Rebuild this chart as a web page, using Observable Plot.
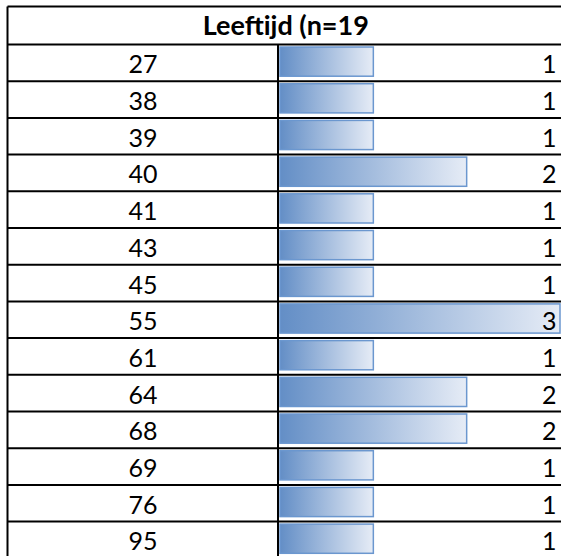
<!DOCTYPE html>
<html><head><meta charset="utf-8">
<script src="https://cdn.jsdelivr.net/npm/d3@7"></script>
<script src="https://cdn.jsdelivr.net/npm/@observablehq/plot@0.6"></script>
<style>body{margin:0;background:#fff;} svg{display:block;}</style>
</head><body><div id="chart"></div>
<script>
const title = "Leeftijd (n=19";
const ages = ["27","38","39","40","41","43","45","55","61","64","68","69","76","95"];
const counts = [1,1,1,2,1,1,1,3,1,2,2,1,1,1];
const maxCount = 3;

const rows = ages.map((age, i) => ({age, count: counts[i], row: i}));
const W = 561, H = 556;
const rowH = 36.7, tableTop = 44;
const barLeft = 280, barRight = 560;

const defs = () => {
  const d = d3.create("svg:defs");
  const g = d.append("linearGradient").attr("id", "databar")
    .attr("x1", 0).attr("x2", 1).attr("y1", 0).attr("y2", 0);
  g.append("stop").attr("offset", 0).attr("stop-color", "#638EC6");
  g.append("stop").attr("offset", 1).attr("stop-color", "#E6ECF6");
  return d.node();
};

const borders = (index, scales, values, dims) => {
  const g = d3.create("svg:g").attr("stroke", "#000").attr("stroke-width", 2);
  g.append("line").attr("x1", dims.marginLeft).attr("x2", dims.width)
    .attr("y1", dims.marginTop).attr("y2", dims.marginTop);
  g.append("line").attr("x1", dims.marginLeft).attr("x2", dims.marginLeft)
    .attr("y1", dims.marginTop).attr("y2", dims.height);
  const xd = scales.x(0) - 2;
  g.append("line").attr("x1", xd).attr("x2", xd)
    .attr("y1", scales.y(0)).attr("y2", dims.height);
  return g.node();
};

const chart = Plot.plot({
  width: W, height: H,
  marginLeft: 7.5, marginTop: 6.5, marginRight: 0, marginBottom: 0,
  style: {fontFamily: "Lato, sans-serif", fontSize: "25px", background: "#fff", color: "#000"},
  x: {domain: [0, maxCount], range: [barLeft, barRight], axis: null},
  y: {domain: [0, ages.length], range: [tableTop, tableTop + rowH * ages.length], axis: null},
  marks: [
    defs,
    Plot.rectX(rows, {x1: 0, x2: "count", y1: "row", y2: d => d.row + 1,
      insetTop: 3, insetBottom: 4.5, fill: "url(#databar)", stroke: "#6B97CF", strokeWidth: 1.5}),
    Plot.ruleY(d3.range(ages.length + 1), {stroke: "#000", strokeWidth: 2}),
    borders,
    Plot.text(rows, {y: d => d.row + 0.5, text: "age", frameAnchor: "left", dx: 135,
      textAnchor: "middle", lineAnchor: "middle", dy: 2.5, fill: "#000"}),
    Plot.text(rows, {y: d => d.row + 0.5, text: d => String(d.count), frameAnchor: "right",
      dx: -5, textAnchor: "end", lineAnchor: "middle", dy: 2.5, fill: "#000"}),
    Plot.text([title], {frameAnchor: "top", dy: 19.5, dx: 1, lineAnchor: "middle",
      fontWeight: "bold", fontSize: 27, fill: "#000"})
  ]
});
document.getElementById("chart").appendChild(chart);
</script>
</body></html>
